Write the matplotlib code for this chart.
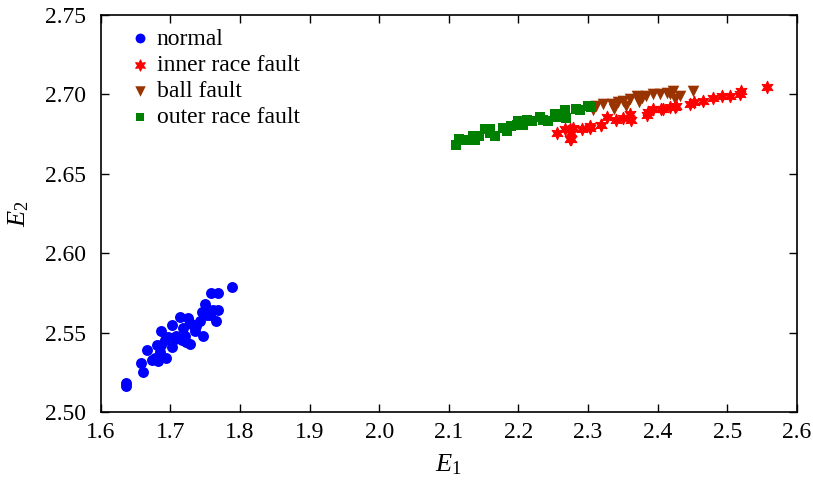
import matplotlib
matplotlib.use("Agg")
import matplotlib.pyplot as plt

plt.rcParams['font.family'] = ['Liberation Serif', 'DejaVu Serif']
plt.rcParams['mathtext.fontset'] = 'custom'
plt.rcParams['mathtext.it'] = 'Liberation Serif:italic'
plt.rcParams['mathtext.rm'] = 'Liberation Serif'

normal_x = [1.636, 1.636, 1.661, 1.658, 1.667, 1.673, 1.682, 1.678, 1.685, 1.694, 1.687, 1.686,
            1.702, 1.702, 1.714, 1.706, 1.716, 1.718, 1.725, 1.723, 1.728, 1.733, 1.735, 1.742,
            1.747, 1.745, 1.749, 1.752, 1.759, 1.769, 1.761, 1.766, 1.769, 1.789, 1.757, 1.737,
            1.708, 1.697, 1.692, 1.681, 1.728, 1.721, 1.752]
normal_y = [2.518, 2.516, 2.525, 2.531, 2.539, 2.533, 2.532, 2.534, 2.538, 2.534, 2.542, 2.551,
            2.555, 2.541, 2.560, 2.546, 2.545, 2.553, 2.559, 2.544, 2.543, 2.555, 2.551, 2.557,
            2.548, 2.563, 2.568, 2.565, 2.575, 2.575, 2.564, 2.557, 2.564, 2.579, 2.561, 2.554,
            2.548, 2.547, 2.545, 2.542, 2.556, 2.548, 2.561]

inner_x = [2.255, 2.267, 2.274, 2.279, 2.276, 2.291, 2.303, 2.319, 2.327, 2.341, 2.350, 2.360,
           2.362, 2.386, 2.394, 2.405, 2.418, 2.427, 2.385, 2.274, 2.276, 2.303, 2.319, 2.408,
           2.425, 2.446, 2.453, 2.465, 2.480, 2.492, 2.504, 2.518, 2.520, 2.557]
inner_y = [2.676, 2.678, 2.672, 2.679, 2.676, 2.678, 2.680, 2.681, 2.686, 2.684, 2.685, 2.688,
           2.684, 2.689, 2.691, 2.691, 2.692, 2.693, 2.687, 2.678, 2.672, 2.679, 2.681, 2.691,
           2.692, 2.694, 2.695, 2.696, 2.698, 2.699, 2.699, 2.700, 2.702, 2.705]

ball_x = [2.312, 2.322, 2.334, 2.343, 2.350, 2.360, 2.370, 2.377, 2.384, 2.394, 2.403, 2.413,
          2.422, 2.338, 2.355, 2.374, 2.307, 2.418, 2.432, 2.451, 2.425]
ball_y = [2.693, 2.694, 2.694, 2.695, 2.696, 2.697, 2.699, 2.698, 2.699, 2.700, 2.700, 2.701,
          2.702, 2.691, 2.693, 2.695, 2.690, 2.700, 2.699, 2.702, 2.697]

outer_x = [2.111, 2.114, 2.125, 2.135, 2.137, 2.152, 2.159, 2.166, 2.178, 2.183, 2.190, 2.200,
           2.207, 2.212, 2.219, 2.231, 2.236, 2.243, 2.252, 2.254, 2.267, 2.269, 2.283, 2.288,
           2.300, 2.305, 2.159, 2.144, 2.198]
outer_y = [2.668, 2.672, 2.671, 2.674, 2.671, 2.678, 2.676, 2.674, 2.679, 2.677, 2.680, 2.683,
           2.681, 2.684, 2.683, 2.686, 2.684, 2.683, 2.688, 2.686, 2.690, 2.685, 2.691, 2.690,
           2.693, 2.692, 2.678, 2.674, 2.681]

x_ticks = [1.6, 1.7, 1.8, 1.9, 2.0, 2.1, 2.2, 2.3, 2.4, 2.5, 2.6]
y_ticks = [2.50, 2.55, 2.60, 2.65, 2.70, 2.75]

fig = plt.figure(figsize=(8.13, 4.88), dpi=100)
ax = fig.add_axes([0.124, 0.156, 0.856, 0.813])

ax.scatter(normal_x, normal_y, s=62, marker='o', color='#0000ff', linewidths=0, label='normal', zorder=3)
ax.scatter(inner_x, inner_y, s=80, marker=(6, 1, 0), color='#ff0000', linewidths=0.8,
           edgecolors='#ff0000', label='inner race fault', zorder=4)
ax.scatter(ball_x, ball_y, s=70, marker='v', color='#993300', linewidths=0, label='ball fault', zorder=3)
ax.scatter(outer_x, outer_y, s=50, marker='s', color='#008000', linewidths=0, label='outer race fault', zorder=3)

ax.set_xlim(1.6, 2.6)
ax.set_ylim(2.50, 2.75)
ax.set_xticks(x_ticks)
ax.set_xticklabels([f"{v:.1f}" for v in x_ticks])
ax.set_yticks(y_ticks)
ax.set_yticklabels([f"{v:.2f}" for v in y_ticks])
ax.tick_params(direction='in', top=True, right=True, length=6, width=1, labelsize=17)
ax.tick_params(axis='x', pad=7)
ax.tick_params(axis='y', pad=11)
for sp in ax.spines.values():
    sp.set_linewidth(1.2)

ax.set_xlabel(r'$E_1$', fontsize=19, labelpad=7)
ax.set_ylabel(r'$E_2$', fontsize=19, labelpad=10)

leg = ax.legend(loc='upper left', frameon=False, fontsize=17, handlelength=1.0, handletextpad=0.22,
                borderaxespad=0.0, labelspacing=0.2, bbox_to_anchor=(0.0256, 0.991),
                scatterpoints=1, markerscale=0.9)

fig.savefig('out.png', dpi=100)
